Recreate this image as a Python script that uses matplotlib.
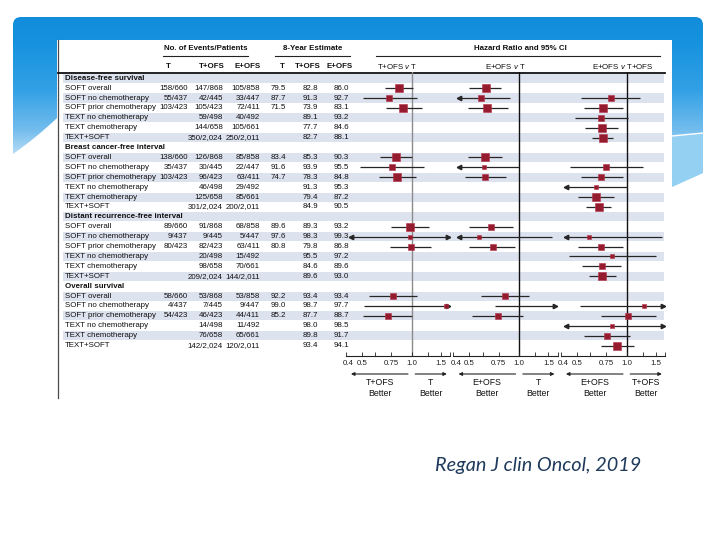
import numpy as np
import matplotlib
matplotlib.use("Agg")
import matplotlib.pyplot as plt
import matplotlib.transforms as mtransforms
from matplotlib.patches import Rectangle, PathPatch, Polygon
from matplotlib.path import Path
from matplotlib.ticker import FixedLocator, NullFormatter

plt.rcParams['font.family'] = ['Liberation Sans', 'DejaVu Sans']
plt.rcParams['mathtext.fontset'] = 'custom'
plt.rcParams['mathtext.it'] = 'Liberation Sans:italic'
plt.rcParams['mathtext.rm'] = 'Liberation Sans'

nan = np.nan

# ---------------- data ----------------
endpoints = ["Disease-free survival", "Breast cancer-free interval",
             "Distant recurrence-free interval", "Overall survival"]
subgroups = ["SOFT overall", "SOFT no chemotherapy", "SOFT prior chemotherapy",
             "TEXT no chemotherapy", "TEXT chemotherapy", "TEXT+SOFT"]

events_T = ["158/660", "55/437", "103/423", "", "", "",
            "138/660", "35/437", "103/423", "", "", "",
            "89/660", "9/437", "80/423", "", "", "",
            "58/660", "4/437", "54/423", "", "", ""]
events_TOFS = ["147/868", "42/445", "105/423", "59/498", "144/658", "350/2,024",
               "126/868", "30/445", "96/423", "46/498", "125/658", "301/2,024",
               "91/868", "9/445", "82/423", "20/498", "98/658", "209/2,024",
               "53/868", "7/445", "46/423", "14/498", "76/658", "142/2,024"]
events_EOFS = ["105/858", "33/447", "72/411", "40/492", "105/661", "250/2,011",
               "85/858", "22/447", "63/411", "29/492", "85/661", "200/2,011",
               "68/858", "5/447", "63/411", "15/492", "70/661", "144/2,011",
               "53/858", "9/447", "44/411", "11/492", "65/661", "120/2,011"]
est_T = ["79.5", "87.7", "71.5", "", "", "",
         "83.4", "91.6", "74.7", "", "", "",
         "89.6", "97.6", "80.8", "", "", "",
         "92.2", "99.0", "85.2", "", "", ""]
est_TOFS = ["82.8", "91.3", "73.9", "89.1", "77.7", "82.7",
            "85.3", "93.9", "78.3", "91.3", "79.4", "84.9",
            "89.3", "98.3", "79.8", "95.5", "84.6", "89.6",
            "93.4", "98.7", "87.7", "98.0", "89.8", "93.4"]
est_EOFS = ["86.0", "92.7", "83.1", "93.2", "84.6", "88.1",
            "90.3", "95.5", "84.8", "95.3", "87.2", "90.5",
            "93.2", "99.3", "86.8", "97.2", "89.6", "93.0",
            "93.4", "97.7", "88.7", "98.5", "91.7", "94.1"]

# T+OFS v T
hr_a = [0.84, 0.73, 0.89, nan, nan, nan,
        0.80, 0.76, 0.82, nan, nan, nan,
        0.98, 0.97, 0.99, nan, nan, nan,
        0.77, 1.61, 0.72, nan, nan, nan]
lo_a = [0.69, 0.51, 0.70, nan, nan, nan,
        0.64, 0.49, 0.635, nan, nan, nan,
        0.75, 0.30, 0.74, nan, nan, nan,
        0.555, 0.515, 0.51, nan, nan, nan]
hi_a = [1.02, 1.07, 1.15, nan, nan, nan,
        1.00, 1.19, 1.06, nan, nan, nan,
        1.28, 3.2, 1.31, nan, nan, nan,
        1.07, 5.0, 1.01, nan, nan, nan]
# E+OFS v T
hr_b = [0.63, 0.585, 0.64, nan, nan, nan,
        0.62, 0.61, 0.62, nan, nan, nan,
        0.675, 0.57, 0.69, nan, nan, nan,
        0.82, 2.5, 0.74, nan, nan, nan]
lo_b = [0.50, 0.30, 0.49, nan, nan, nan,
        0.49, 0.30, 0.47, nan, nan, nan,
        0.50, 0.25, 0.50, nan, nan, nan,
        0.59, 0.71, 0.52, nan, nan, nan]
hi_b = [0.78, 0.88, 0.85, nan, nan, nan,
        0.79, 1.00, 0.83, nan, nan, nan,
        0.91, 1.57, 0.94, nan, nan, nan,
        1.15, 9.0, 1.05, nan, nan, nan]
# E+OFS v T+OFS
hr_c = [nan, 0.80, 0.72, 0.70, 0.71, 0.72,
        nan, 0.75, 0.70, 0.65, 0.65, 0.68,
        nan, 0.59, 0.70, 0.82, 0.71, 0.71,
        nan, 1.28, 1.02, 0.81, 0.76, 0.87]
lo_c = [nan, 0.53, 0.55, 0.49, 0.56, 0.62,
        nan, 0.455, 0.53, 0.30, 0.51, 0.57,
        nan, 0.20, 0.51, 0.45, 0.535, 0.59,
        nan, 0.52, 0.70, 0.20, 0.55, 0.70]
hi_c = [nan, 1.21, 0.95, 1.02, 0.89, 0.83,
        nan, 1.25, 0.95, 1.00, 0.84, 0.80,
        nan, 1.63, 0.95, 1.50, 0.93, 0.86,
        nan, 5.0, 1.50, 4.0, 1.04, 1.10]

tick_vals = [0.4, 0.5, 0.75, 1.0, 1.5]
tick_labels = ["0.4", "0.5", "0.75", "1.0", "1.5"]
comparisons = ["T+OFS $\\mathit{v}$ T", "E+OFS $\\mathit{v}$ T", "E+OFS $\\mathit{v}$ T+OFS"]
better_left = ["T+OFS", "E+OFS", "E+OFS"]
better_right = ["T", "T", "T+OFS"]
caption = "Regan J clin Oncol, 2019"

# ---------------- layout ----------------
W, H = 720, 540
fig = plt.figure(figsize=(7.2, 5.4), dpi=100)
fig.patch.set_facecolor('white')


def px(x0, y0, x1, y1):
    return [x0 / W, 1 - y1 / H, (x1 - x0) / W, (y1 - y0) / H]


bg = fig.add_axes([0, 0, 1, 1])
bg.set_xlim(0, W)
bg.set_ylim(H, 0)
bg.axis('off')

# blue slide decoration with gradient
verts = [(13, 25), (13, 17), (21, 17), (695, 17), (703, 17), (703, 25),
         (703, 173), (672, 187), (672, 40), (57, 40), (57, 118),
         (36, 138), (13, 154), (13, 25)]
codes = [Path.MOVETO, Path.CURVE3, Path.CURVE3, Path.LINETO, Path.CURVE3, Path.CURVE3,
         Path.LINETO, Path.LINETO, Path.LINETO, Path.LINETO, Path.LINETO,
         Path.CURVE3, Path.CURVE3, Path.CLOSEPOLY]
shape = PathPatch(Path(verts, codes), facecolor='none', edgecolor='none')
bg.add_patch(shape)
ys = np.linspace(0, 200, 201)
stops_y = [0, 40, 90, 130, 160, 200]
stops_c = np.array([[0.06, 0.54, 0.85], [0.08, 0.57, 0.87], [0.20, 0.63, 0.90],
                    [0.45, 0.74, 0.93], [0.78, 0.89, 0.97], [0.85, 0.93, 0.98]])
grad = np.stack([np.interp(ys, stops_y, stops_c[:, k]) for k in range(3)], axis=-1)
grad = np.repeat(grad[:, None, :], 2, axis=1)
im = bg.imshow(grad, extent=[0, W, 200, 0], aspect='auto', zorder=1)
im.set_clip_path(shape)
bg.add_patch(Polygon([(672, 136), (703, 133), (703, 173), (672, 187)],
                     closed=True, facecolor='#93d0f2', edgecolor='none', zorder=2))
bg.plot([672, 703], [136, 133], color='white', lw=1.0, zorder=3)

# white picture box
bg.add_patch(Rectangle((57, 40), 615, 362, facecolor='white', edgecolor='none', zorder=4))
bg.plot([57.5, 57.5], [40, 398], color='#4a4a4a', lw=0.9, zorder=5)

FS = 5.7
TXT = '#111111'
# header texts
bg.text(206, 49, "No. of Events/Patients", ha='center', va='center', fontsize=FS,
        fontweight='bold', color=TXT, zorder=6)
bg.text(313, 49, "8-Year Estimate", ha='center', va='center', fontsize=FS,
        fontweight='bold', color=TXT, zorder=6)
bg.text(520, 49, "Hazard Ratio and 95% CI", ha='center', va='center', fontsize=FS,
        fontweight='bold', color=TXT, zorder=6)
for xa, xb in [(163, 248), (275, 350), (376, 660)]:
    bg.plot([xa, xb], [55.5, 55.5], color='#222', lw=0.8, zorder=6)
for xc, lab in zip([168, 212, 248, 282, 308, 340], ["T", "T+OFS", "E+OFS", "T", "T+OFS", "E+OFS"]):
    bg.text(xc, 66.5, lab, ha='center', va='center', fontsize=FS, fontweight='bold',
            color=TXT, zorder=6)
for xc, lab in zip([397, 505, 623], comparisons):
    bg.text(xc, 66.5, lab, ha='center', va='center', fontsize=FS, color=TXT, zorder=6)
bg.plot([58, 665], [72.5, 72.5], color='#111', lw=1.3, zorder=6)

bg.text(435, 466, caption, ha='left', va='center', fontsize=14.3, style='italic',
        family=['Lato', 'DejaVu Sans'], color='#1f3a5c', zorder=6)

# ---------------- table ----------------
TOP, BOT = 72.3, 356.0
YT, YB = -0.6, 28.05
tab = fig.add_axes(px(57, TOP, 672, BOT))
tab.set_xlim(57, 672)
tab.set_ylim(YB, YT)
tab.axis('off')
tab.set_zorder(5)
tab.patch.set_alpha(0)

n_rows = len(endpoints) * (len(subgroups) + 1)
for r in range(0, n_rows, 2):
    tab.add_patch(Rectangle((63, r - 0.46), 601, 0.92, facecolor='#dde2ef',
                            edgecolor='none', zorder=0))

data_rows = []
r = 0
for e, ep in enumerate(endpoints):
    tab.text(65, r, ep, ha='left', va='center', fontsize=FS, fontweight='bold', color=TXT)
    r += 1
    for s, sg in enumerate(subgroups):
        i = e * len(subgroups) + s
        tab.text(65, r, sg, ha='left', va='center', fontsize=FS, color=TXT)
        for xr, col in zip([188, 223, 260, 286, 318, 349],
                           [events_T, events_TOFS, events_EOFS, est_T, est_TOFS, est_EOFS]):
            tab.text(xr, r, col[i], ha='right', va='center', fontsize=FS, color=TXT)
        data_rows.append(r)
        r += 1

# ---------------- forest panels ----------------
XL = (0.399, 1.70)
tipL, tipR = 0.43, 1.65
PXLN = 72.0  # pixels per natural-log unit
centers = [411.7, 519.3, 626.7]
ref_colors = ['#8c8c8c', '#111111', '#111111']
panel_data = [(hr_a, lo_a, hi_a), (hr_b, lo_b, hi_b), (hr_c, lo_c, hi_c)]
axh = BOT - TOP
shift = mtransforms.ScaledTranslation(2.5 / 100, 0, fig.dpi_scale_trans)


def yfrac(py):
    return -(py - BOT) / axh


for k, (cx, refc, (hr, lo, hi)) in enumerate(zip(centers, ref_colors, panel_data)):
    x0 = cx + PXLN * np.log(XL[0])
    x1 = cx + PXLN * np.log(XL[1])
    ax = fig.add_axes(px(x0, TOP, x1, BOT))
    ax.set_zorder(6)
    ax.patch.set_alpha(0)
    ax.set_xscale('log')
    ax.set_xlim(*XL)
    ax.set_ylim(YB, YT)
    for sp in ['top', 'right', 'left']:
        ax.spines[sp].set_visible(False)
    ax.spines['bottom'].set_linewidth(0.8)
    ax.spines['bottom'].set_color('#222')
    ax.set_yticks([])
    ax.xaxis.set_major_locator(FixedLocator(tick_vals))
    ax.set_xticklabels(tick_labels)
    ax.xaxis.set_minor_locator(FixedLocator([0.6, 1.25, 1.7]))
    ax.xaxis.set_minor_formatter(NullFormatter())
    ax.tick_params(axis='x', which='both', direction='in', length=3, width=0.6,
                   labelsize=FS, pad=3, colors='#222')
    first = ax.xaxis.get_majorticklabels()[0]
    first.set_transform(first.get_transform() + shift)
    ax.axvline(1.0, color=refc, lw=1.0, zorder=1)
    for row, h, l, u in zip(data_rows, hr, lo, hi):
        if np.isnan(h):
            continue
        a, b = max(l, tipL), min(u, tipR)
        ax.plot([a, b], [row, row], color='#262626', lw=0.9, zorder=2, solid_capstyle='butt')
        if l < tipL:
            ax.plot([tipL], [row], marker='<', ms=3.2, color='#262626', zorder=2)
        if u > tipR:
            ax.plot([tipR], [row], marker='>', ms=3.2, color='#262626', zorder=2)
        side = float(np.clip(5.2 / np.sqrt(np.log(u / l)), 3.8, 8.6))
        ax.plot([h], [row], marker='s', ms=side * 0.72, mfc='#951b2e', mec='#b43148',
                mew=0.4, zorder=3, clip_on=True)
    tr = ax.get_xaxis_transform()
    ya = yfrac(374)
    ax.annotate('', xy=(tipL, ya), xytext=(0.95, ya), xycoords=tr, textcoords=tr,
                annotation_clip=False,
                arrowprops=dict(arrowstyle='-|>', lw=0.8, color='#222',
                                mutation_scale=5, shrinkA=0, shrinkB=0))
    ax.annotate('', xy=(1.63, ya), xytext=(1.05, ya), xycoords=tr, textcoords=tr,
                annotation_clip=False,
                arrowprops=dict(arrowstyle='-|>', lw=0.8, color='#222',
                                mutation_scale=5, shrinkA=0, shrinkB=0))
    for xv, lab in [(0.64, better_left[k]), (1.30, better_right[k])]:
        ax.text(xv, yfrac(382.5), lab, transform=tr, ha='center', va='center',
                fontsize=6.3, color=TXT)
        ax.text(xv, yfrac(393.5), "Better", transform=tr, ha='center', va='center',
                fontsize=6.3, color=TXT)

fig.savefig("out.png", dpi=100)
